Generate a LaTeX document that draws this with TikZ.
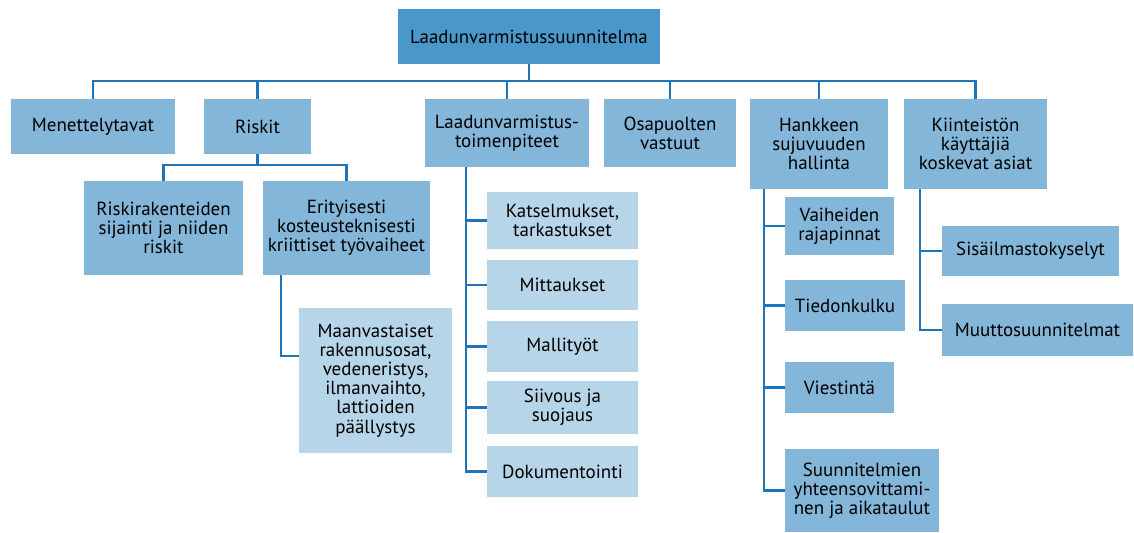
\documentclass[tikz,border=0pt]{standalone}
\usepackage{fontspec}
\setmainfont{PT Sans}
\definecolor{topblue}{RGB}{74,152,201}
\definecolor{midblue}{RGB}{131,182,216}
\definecolor{lightblue}{RGB}{182,213,232}
\definecolor{linkblue}{RGB}{30,115,185}
\tikzset{
  box/.style={fill=midblue,align=center,inner sep=0pt,font=\fontsize{10.8}{10.9}\selectfont},
  topbox/.style={box,fill=topblue},
  subbox/.style={box,fill=lightblue},
  link/.style={draw=linkblue,line width=1.2pt}
}
\begin{document}
\begin{tikzpicture}[x=0.02cm,y=-0.02cm]
  \useasboundingbox (0,0) rectangle (1134,533);
  % main level
  \node[topbox,minimum width=5.24cm,minimum height=1.1cm] (root) at (529,36.5) {Laadunvarmistussuunnitelma};
  \node[box,minimum width=3.28cm,minimum height=1.1cm] (men) at (93,126.5) {Menettelytavat};
  \node[box,minimum width=2.14cm,minimum height=1.1cm] (risk) at (257.5,126.5) {Riskit};
  \node[box,minimum width=3.28cm,minimum height=1.36cm] (ltp) at (507,133) {Laadunvarmistus-\\toimenpiteet};
  \node[box,minimum width=2.64cm,minimum height=1.36cm] (osa) at (670,133) {Osapuolten\\vastuut};
  \node[box,minimum width=2.76cm,minimum height=1.8cm] (han) at (819,144) {Hankkeen\\sujuvuuden\\hallinta};
  \node[box,minimum width=2.86cm,minimum height=1.8cm] (kii) at (975.5,144) {Kiinteistön\\käyttäjiä\\koskevat asiat};
  \foreach \n in {men,risk,ltp,osa,han,kii}
    \draw[link] (root.south) -- (root.south |- 0,81) -| (\n.north);
  % riskit
  \node[box,minimum width=3.18cm,minimum height=1.88cm] (rr) at (163.5,228) {Riskirakenteiden\\sijainti ja niiden\\riskit};
  \node[box,minimum width=3.34cm,minimum height=1.88cm] (eri) at (346.5,228) {Erityisesti\\kosteusteknisesti\\kriittiset työvaiheet};
  \node[subbox,minimum width=3.06cm,minimum height=2.9cm] (maa) at (375.5,380.5) {Maanvastaiset\\rakennusosat,\\vedeneristys,\\ilmanvaihto,\\lattioiden\\päällystys};
  \foreach \n in {rr,eri}
    \draw[link] (risk.south) -- (risk.south |- 0,165) -| (\n.north);
  \coordinate (eriT) at (281,275);
  \draw[link] (eriT) |- ([yshift=14pt]maa.west);
  % toimenpiteet
  \node[subbox,minimum width=3.02cm,minimum height=1.14cm] (kat) at (562.5,220.5) {Katselmukset,\\tarkastukset};
  \node[subbox,minimum width=3.02cm,minimum height=1.0cm] (mit) at (562.5,285) {Mittaukset};
  \node[subbox,minimum width=3.02cm,minimum height=1.02cm] (mal) at (562.5,346.5) {Mallityöt};
  \node[subbox,minimum width=3.02cm,minimum height=1.06cm] (sii) at (562.5,407.5) {Siivous ja\\suojaus};
  \node[subbox,minimum width=3.02cm,minimum height=1.02cm] (dok) at (562.5,471.5) {Dokumentointi};
  \coordinate (ltpT) at (466,167);
  \draw[link] (ltpT) |- (dok.west);
  \foreach \n in {kat,mit,mal,sii}
    \draw[link] (ltpT |- \n.west) -- (\n.west);
  % hankkeen hallinta
  \node[box,minimum width=2.18cm,minimum height=1.16cm] (vai) at (839.5,226) {Vaiheiden\\rajapinnat};
  \node[box,minimum width=2.4cm,minimum height=1.02cm] (tie) at (845,305.5) {Tiedonkulku};
  \node[box,minimum width=2.18cm,minimum height=1.02cm] (vie) at (839.5,387.5) {Viestintä};
  \node[box,minimum width=3.08cm,minimum height=1.66cm] (suu) at (862,490.5) {Suunnitelmien\\yhteensovittami-\\nen ja aikataulut};
  \coordinate (hanT) at (764,189);
  \draw[link] (hanT) |- (suu.west);
  \foreach \n in {vai,tie,vie}
    \draw[link] (hanT |- \n.west) -- (\n.west);
  % kayttajat
  \node[box,minimum width=3.54cm,minimum height=1.0cm] (sis) at (1030.5,251) {Sisäilmastokyselyt};
  \node[box,minimum width=3.82cm,minimum height=1.04cm] (muu) at (1037.5,330) {Muuttosuunnitelmat};
  \coordinate (kiiT) at (920,189);
  \draw[link] (kiiT) |- (muu.west);
  \draw[link] (kiiT |- sis.west) -- (sis.west);
\end{tikzpicture}
\end{document}
